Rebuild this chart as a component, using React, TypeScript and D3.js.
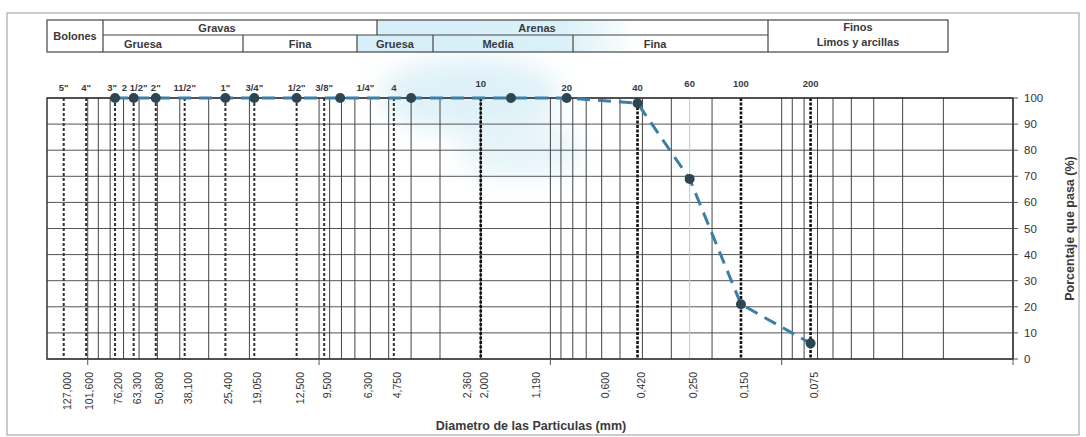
import React from "react";
import * as d3 from "d3";

// ---- data ----
const topSieveLabels = ['5"', '4"', '3"', '2 1/2"', '2"', '11/2"', '1"', '3/4"', '1/2"', '3/8"', '1/4"', '4', '10', '20', '40', '60', '100', '200'];
const topSieveSizes = [127, 101.6, 76.2, 63.3, 50.8, 38.1, 25.4, 19.05, 12.5, 9.5, 6.3, 4.75, 2.0, 0.85, 0.42, 0.25, 0.15, 0.075];
const bottomSizes = [127, 101.6, 76.2, 63.3, 50.8, 38.1, 25.4, 19.05, 12.5, 9.5, 6.3, 4.75, 2.36, 2.0, 1.19, 0.6, 0.42, 0.25, 0.15, 0.075];
const dashedSizes = [127, 101.6, 76.2, 63.3, 50.8, 38.1, 25.4, 19.05, 12.5, 9.5, 4.75];
const heavyDashedSizes = [2.0, 0.42, 0.15, 0.075];
const sampleDiameters = [76.2, 63.3, 50.8, 25.4, 19.05, 12.5, 8.1, 4.0, 1.48, 0.85, 0.42, 0.25, 0.15, 0.075];
const samplePassing = [100, 100, 100, 100, 100, 100, 100, 100, 100, 100, 98, 69, 21, 6];
const yTicks = [0, 10, 20, 30, 40, 50, 60, 70, 80, 90, 100];
const decadeTicks = [100, 10, 1, 0.1, 0.01];

const W = 1086, H = 437;
const L = 47, R = 1013, T = 98, B = 359;
const FONT = "'Liberation Sans', Arial, sans-serif";

const x = d3.scaleLog().domain([150, 0.01]).range([L, R]);
const y = d3.scaleLinear().domain([0, 100]).range([B, T]);

const logGrid: number[] = [];
for (let e = -2; e <= 2; e++) {
  for (let m = 1; m <= 9; m++) {
    const v = m * Math.pow(10, e);
    if (v <= 150 && v >= 0.01) logGrid.push(v);
  }
}

const fmt = (v: number) => v.toFixed(3).replace(".", ",");

export default function App() {
  const pts = sampleDiameters.map((d, i) => [x(d), y(samplePassing[i])] as [number, number]);
  const line = d3.line<[number, number]>()(pts) || "";
  const txt = { fontFamily: FONT, fill: "#3a3a3a", fontWeight: 700 } as const;

  return (
    <svg width={W} height={H} style={{ position: "absolute", left: 0, top: 0, background: "#fff" }}>
      <defs>
        <filter id="blur" x="-50%" y="-50%" width="200%" height="200%">
          <feGaussianBlur stdDeviation="12" />
        </filter>
        <linearGradient id="hdr" x1="357" x2="768" y1="0" y2="0" gradientUnits="userSpaceOnUse">
          <stop offset="0" stopColor="#d6eff8" />
          <stop offset="0.5" stopColor="#d9f0f8" />
          <stop offset="0.68" stopColor="#ffffff" />
          <stop offset="1" stopColor="#ffffff" />
        </linearGradient>
      </defs>
      <rect x={0} y={0} width={W} height={H} fill="#fff" />
      {/* watermark-like light blue areas */}
      <g filter="url(#blur)" opacity={0.5}>
        <ellipse cx={470} cy={95} rx={90} ry={38} fill="#bfe4f2" />
        <ellipse cx={520} cy={150} rx={60} ry={28} fill="#cdeaf5" />
      </g>
      {/* outer frame */}
      <rect x={7} y={13} width={1072} height={422} fill="none" stroke="#9a9a9a" strokeWidth={1} />

      {/* header table */}
      <g stroke="#444" strokeWidth={1.2} fill="none">
        <rect x={377} y={20} width={391} height={15} fill="url(#hdr)" stroke="none" />
        <rect x={357} y={35} width={411} height={17} fill="url(#hdr)" stroke="none" />
        <rect x={47} y={20} width={901} height={32} />
        <line x1={103} y1={20} x2={103} y2={52} />
        <line x1={103} y1={35} x2={768} y2={35} />
        <line x1={377} y1={20} x2={377} y2={35} />
        <line x1={768} y1={20} x2={768} y2={52} />
        <line x1={243} y1={35} x2={243} y2={52} />
        <line x1={357} y1={35} x2={357} y2={52} />
        <line x1={433} y1={35} x2={433} y2={52} />
        <line x1={573} y1={35} x2={573} y2={52} />
      </g>
      <g style={{ ...txt, fontSize: 11 }} textAnchor="middle">
        <text x={75} y={40}>Bolones</text>
        <text x={217} y={32}>Gravas</text>
        <text x={537} y={32}>Arenas</text>
        <text x={143} y={48}>Gruesa</text>
        <text x={300} y={48}>Fina</text>
        <text x={395} y={48}>Gruesa</text>
        <text x={498} y={48}>Media</text>
        <text x={655} y={48}>Fina</text>
        <text x={858} y={31}>Finos</text>
        <text x={858} y={46}>Limos y arcillas</text>
      </g>

      {/* horizontal grid */}
      <g stroke="#555" strokeWidth={1}>
        {yTicks.map((t) => (
          <line key={t} x1={L} x2={R} y1={y(t)} y2={y(t)} />
        ))}
      </g>
      {/* log vertical grid */}
      <g stroke="#444" strokeWidth={1}>
        {logGrid.map((v) => (
          <line key={v} x1={x(v)} x2={x(v)} y1={T} y2={B} />
        ))}
      </g>
      <line x1={x(0.25)} x2={x(0.25)} y1={T} y2={B} stroke="#9fd3e6" strokeWidth={1} />
      {/* sieve dashed lines */}
      <g stroke="#333" strokeWidth={2} strokeDasharray="3,2">
        {dashedSizes.map((v) => (
          <line key={v} x1={x(v)} x2={x(v)} y1={T} y2={B} />
        ))}
      </g>
      <g stroke="#111" strokeWidth={2.6} strokeDasharray="3,1.5">
        {heavyDashedSizes.map((v) => (
          <line key={v} x1={x(v)} x2={x(v)} y1={T} y2={B} />
        ))}
      </g>
      {/* frame */}
      <rect x={L} y={T} width={R - L} height={B - T} fill="none" stroke="#333" strokeWidth={1.5} />
      {/* decade ticks below */}
      <g stroke="#555" strokeWidth={1}>
        {decadeTicks.map((v) => (
          <line key={v} x1={x(v)} x2={x(v)} y1={B} y2={B + 6} />
        ))}
      </g>
      {/* right axis */}
      <g stroke="#555" strokeWidth={1}>
        {yTicks.map((t) => (
          <line key={t} x1={R} x2={R + 5} y1={y(t)} y2={y(t)} />
        ))}
      </g>
      <g style={{ fontFamily: FONT, fill: "#333", fontSize: 11.5 }}>
        {yTicks.map((t) => (
          <text key={t} x={R + 11} y={y(t) + 4}>{t}</text>
        ))}
      </g>
      <text
        transform={`translate(1074,${(T + B) / 2}) rotate(-90)`}
        textAnchor="middle"
        style={{ ...txt, fontSize: 12.5 }}
      >
        Porcentaje que pasa (%)
      </text>

      {/* top sieve labels */}
      <g style={{ ...txt, fontSize: 9.5 }} textAnchor="middle">
        {topSieveLabels.map((s, i) => {
          const hi = s === "10" || s === "60" || s === "100" || s === "200";
          const dx = s === '2 1/2"' ? 1 : s === '3"' ? -3 : 0;
          return (
            <text key={s} x={x(topSieveSizes[i]) + dx} y={hi ? 87 : 91}>{s}</text>
          );
        })}
      </g>
      {/* bottom labels */}
      <g style={{ fontFamily: FONT, fill: "#333", fontSize: 10.5 }}>
        {bottomSizes.map((v) => (
          <text key={v} transform={`translate(${x(v) + 7},372) rotate(-90)`} textAnchor="end">
            {fmt(v)}
          </text>
        ))}
      </g>
      <text x={531} y={430} textAnchor="middle" style={{ ...txt, fontSize: 12.5 }}>
        Diametro de las Particulas (mm)
      </text>

      {/* curve */}
      <path d={line} fill="none" stroke="#3b7ea6" strokeWidth={3} strokeDasharray="13,8" />
      <g fill="#2d4654">
        {pts.map((p, i) => (
          <circle key={i} cx={p[0]} cy={p[1]} r={5} />
        ))}
      </g>
    </svg>
  );
}
